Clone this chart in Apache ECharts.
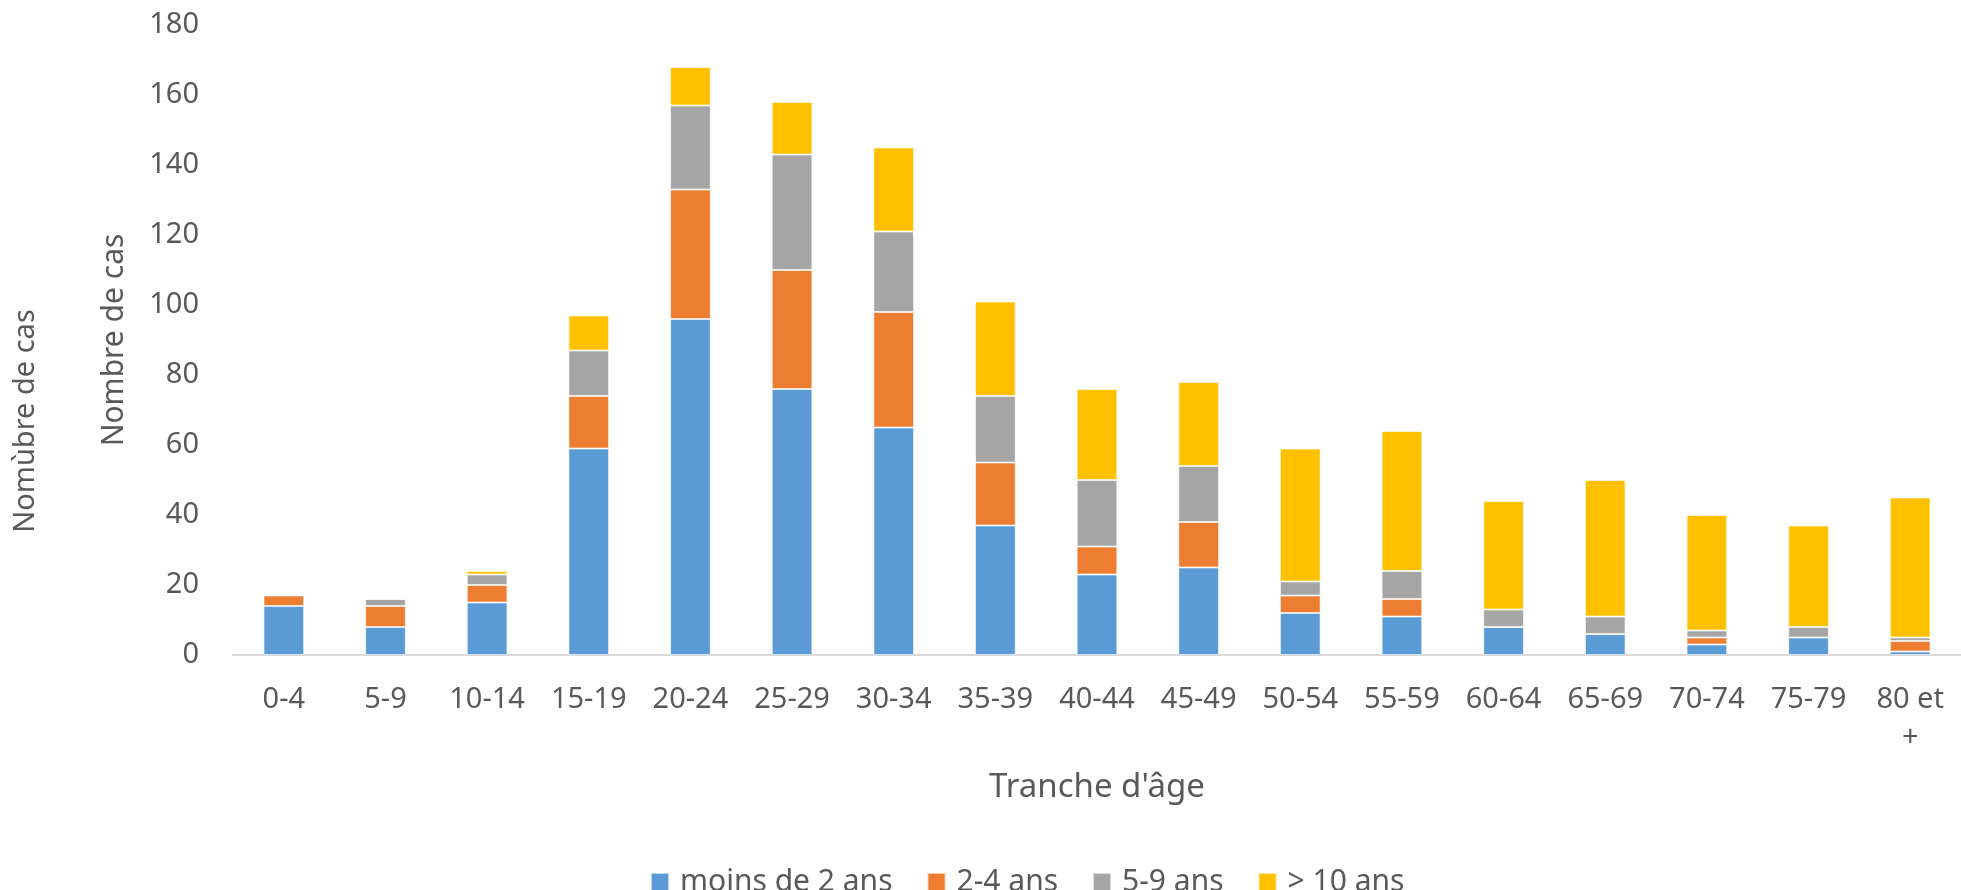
<!DOCTYPE html>
<html>
<head>
<meta charset="utf-8">
<script src="https://cdn.jsdelivr.net/npm/echarts@6/dist/echarts.min.js"></script>
<style>
  html, body { margin: 0; padding: 0; background: #fff; }
  #main { width: 1961px; height: 890px; }
</style>
</head>
<body>
<div id="main"></div>
<script>
// tranches d'âge
const categories = ['0-4', '5-9', '10-14', '15-19', '20-24', '25-29', '30-34', '35-39', '40-44',
  '45-49', '50-54', '55-59', '60-64', '65-69', '70-74', '75-79', '80 et +']
const seriesNames = ['moins de 2 ans', '2-4 ans', '5-9 ans', '> 10 ans']
const moins2 = [14, 8, 15, 59, 96, 76, 65, 37, 23, 25, 12, 11, 8, 6, 3, 5, 1]
const de2a4 = [3, 6, 5, 15, 37, 34, 33, 18, 8, 13, 5, 5, 0, 0, 2, 0, 3]
const de5a9 = [0, 2, 3, 13, 24, 33, 23, 19, 19, 16, 4, 8, 5, 5, 2, 3, 1]
const plus10 = [0, 0, 1, 10, 11, 15, 24, 27, 26, 24, 38, 40, 31, 39, 33, 29, 40]
const colors = ['#5B9BD5', '#ED7D31', '#A5A5A5', '#FFC000']

const textColor = '#595959'
const font = 'Noto Sans'

const chart = echarts.init(document.getElementById('main'))

const allData = [moins2, de2a4, de5a9, plus10]
const series = []
for (let i = 0; i < allData.length; i++) {
  series.push({
    name: seriesNames[i],
    type: 'bar',
    stack: 'total',
    barWidth: '40%',
    data: allData[i],
    itemStyle: {
      color: colors[i],
      borderColor: 'rgba(255,255,255,0.6)',
      borderWidth: 1
    }
  })
}

const option = {
  animation: false,
  textStyle: { fontFamily: font, color: textColor },
  grid: { left: 233, right: 0, top: 25, bottom: 235 },
  legend: {
    left: 645,
    top: 859,
    itemWidth: 30,
    itemHeight: 18,
    itemGap: 34,
    icon: 'path://M0,0H10V10H0Z',
    symbolKeepAspect: true,
    textStyle: { fontFamily: font, fontSize: 30, color: textColor, lineHeight: 36 },
    data: seriesNames
  },
  xAxis: {
    type: 'category',
    data: categories,
    name: "Tranche d'âge",
    nameLocation: 'middle',
    nameGap: 116,
    nameTextStyle: { fontFamily: font, fontSize: 33, color: textColor },
    axisLine: { lineStyle: { color: '#D9D9D9', width: 2 } },
    axisTick: { show: false },
    axisLabel: {
      interval: 0,
      margin: 26,
      fontFamily: font,
      fontSize: 29,
      color: textColor,
      lineHeight: 38,
      formatter: function (v) { return v.replace(' +', '\n+') }
    }
  },
  yAxis: {
    type: 'value',
    min: 0,
    max: 180,
    interval: 20,
    name: 'Nombre de cas',
    nameLocation: 'middle',
    nameGap: 104,
    nameTextStyle: { fontFamily: font, fontSize: 30, color: textColor },
    axisLine: { show: false },
    axisTick: { show: false },
    splitLine: { show: false },
    axisLabel: { margin: 34, fontFamily: font, fontSize: 29, color: textColor }
  },
  graphic: [
    {
      type: 'text',
      x: 26,
      y: 421,
      rotation: Math.PI / 2,
      style: {
        text: 'Nomùbre de cas',
        fontFamily: font,
        fontSize: 29,
        fill: textColor,
        textAlign: 'center',
        textVerticalAlign: 'middle'
      }
    }
  ],
  series: series
}

chart.setOption(option)
</script>
</body>
</html>
